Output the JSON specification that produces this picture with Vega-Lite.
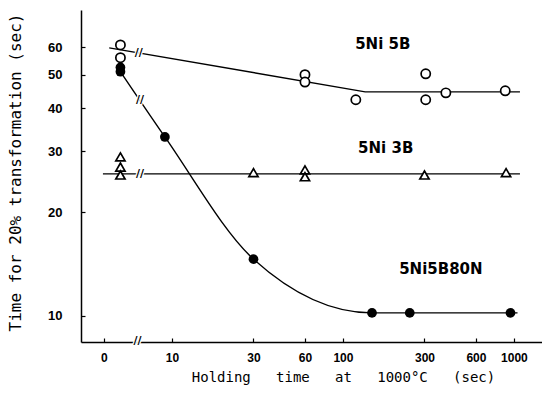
{
  "$schema": "https://vega.github.io/schema/vega-lite/v6.json",
  "width": 461,
  "height": 332,
  "autosize": {"type": "none"},
  "padding": {"left": 81, "top": 10, "right": 0, "bottom": 52},
  "background": "white",
  "config": {"view": {"stroke": null}},
  "datasets": {
    "s5b": [
      {"t": 5, "v": 61}, {"t": 5, "v": 56},
      {"t": 60, "v": 50}, {"t": 60, "v": 47.6},
      {"t": 119, "v": 42.3},
      {"t": 305, "v": 50.3}, {"t": 305, "v": 42.3},
      {"t": 400, "v": 44.3}, {"t": 890, "v": 44.9}
    ],
    "s3b": [
      {"t": 5, "v": 28.9}, {"t": 5, "v": 27.0}, {"t": 5, "v": 25.6},
      {"t": 30, "v": 26.0},
      {"t": 60, "v": 26.5}, {"t": 60, "v": 25.3},
      {"t": 300, "v": 25.6}, {"t": 900, "v": 26.0}
    ],
    "s80n": [
      {"t": 5, "v": 52.5}, {"t": 5, "v": 51},
      {"t": 9.1, "v": 33},
      {"t": 30, "v": 14.6},
      {"t": 148, "v": 10.2}, {"t": 246, "v": 10.2}, {"t": 955, "v": 10.2}
    ],
    "fits": [
      {"series": "5Ni5B", "t": 4.3, "v": 59.8},
      {"series": "5Ni5B", "t": 135, "v": 44.6},
      {"series": "5Ni5B", "t": 1085, "v": 44.6},
      {"series": "5Ni3B", "t": 3.95, "v": 25.8},
      {"series": "5Ni3B", "t": 1085, "v": 25.8}
    ],
    "curve": [
      {"t": 5, "v": 51}, {"t": 9.1, "v": 33}, {"t": 30, "v": 14.6},
      {"t": 148, "v": 10.2}, {"t": 1050, "v": 10.2}
    ],
    "breaks": [
      {"t": 6.4, "v": 57.9}, {"t": 6.5, "v": 42.3}, {"t": 6.5, "v": 25.8}, {"t": 6.3, "v": 8.45}
    ],
    "labels": [
      {"t": 171, "v": 61.4, "text": "5Ni 5B"},
      {"t": 178, "v": 30.7, "text": "5Ni 3B"},
      {"t": 374, "v": 13.7, "text": "5Ni5B80N"}
    ]
  },
  "encoding": {
    "x": {
      "field": "t", "type": "quantitative",
      "scale": {"type": "log", "domain": [2.94, 1460], "nice": false},
      "axis": {
        "values": [4, 10, 30, 60, 100, 300, 600, 1000],
        "format": "d",
        "labelExpr": "datum.value < 5 ? '0' : datum.label",
        "grid": false,
        "domainColor": "black", "domainWidth": 1.5,
        "tickColor": "black", "tickSize": -4, "tickWidth": 1.2,
        "labelFont": "Liberation Sans", "labelFontSize": 12, "labelFontWeight": "bold", "labelColor": "black",
        "labelPadding": 14, "labelFlush": false, "labelOverlap": false,
        "title": "Holding\u00a0\u00a0 time\u00a0\u00a0 at\u00a0\u00a0 1000°C\u00a0\u00a0 (sec)",
        "titleFont": "DejaVu Sans Mono", "titleFontSize": 14, "titleFontWeight": "normal",
        "titleColor": "black", "titlePadding": 7, "titleX": 262
      }
    },
    "y": {
      "field": "v", "type": "quantitative",
      "scale": {"type": "log", "domain": [8.4, 77], "nice": false},
      "axis": {
        "values": [10, 20, 30, 40, 50, 60],
        "format": "d",
        "grid": false,
        "domainColor": "black", "domainWidth": 1.5,
        "tickColor": "black", "tickSize": -4, "tickWidth": 1.2,
        "labelFont": "Liberation Sans", "labelFontSize": 13, "labelFontWeight": "bold", "labelColor": "black",
        "labelPadding": 23,
        "title": "Time for 20% transformation (sec)",
        "titleFont": "DejaVu Sans Mono", "titleFontSize": 16, "titleFontWeight": "normal",
        "titleColor": "black", "titlePadding": 24, "titleY": 162
      }
    }
  },
  "layer": [
    {
      "data": {"values": [{}]},
      "mark": {"type": "rule", "color": "black", "strokeWidth": 1.5},
      "encoding": {
        "x": {"datum": 2.94, "type": "quantitative"},
        "x2": {"datum": 1460},
        "y": {"datum": 77, "type": "quantitative"}
      }
    },
    {
      "data": {"name": "fits"},
      "mark": {"type": "line", "color": "black", "strokeWidth": 1.4},
      "encoding": {"detail": {"field": "series"}}
    },
    {
      "data": {"name": "curve"},
      "mark": {"type": "line", "color": "black", "strokeWidth": 1.4, "interpolate": "monotone"},
      "encoding": {}
    },
    {
      "data": {"name": "s5b"},
      "mark": {"type": "point", "shape": "circle", "filled": false, "fill": "white", "fillOpacity": 1, "stroke": "black", "strokeWidth": 1.7, "size": 85, "opacity": 1}
    },
    {
      "data": {"name": "s3b"},
      "mark": {"type": "point", "shape": "triangle-up", "filled": false, "fill": "white", "fillOpacity": 1, "stroke": "black", "strokeWidth": 1.7, "size": 85, "opacity": 1}
    },
    {
      "data": {"name": "s80n"},
      "mark": {"type": "point", "shape": "circle", "filled": true, "color": "black", "size": 95, "opacity": 1}
    },
    {
      "data": {"name": "breaks"},
      "mark": {"type": "text", "text": "//", "font": "DejaVu Sans", "fontSize": 11, "fontWeight": "bold", "color": "black", "align": "center", "baseline": "middle", "stroke": "white", "strokeWidth": 2.5, "strokeOpacity": 1}
    },
    {
      "data": {"name": "breaks"},
      "mark": {"type": "text", "text": "//", "font": "DejaVu Sans", "fontSize": 11, "fontWeight": "bold", "color": "black", "align": "center", "baseline": "middle"}
    },
    {
      "data": {"name": "labels"},
      "mark": {"type": "text", "font": "DejaVu Sans", "fontSize": 15, "fontWeight": "bold", "color": "black", "align": "center", "baseline": "middle"},
      "encoding": {"text": {"field": "text"}}
    }
  ]
}
